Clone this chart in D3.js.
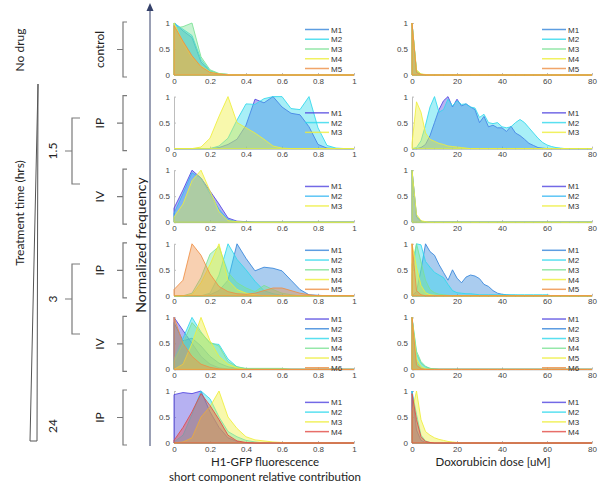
<!DOCTYPE html>
<html>
<head>
<meta charset="utf-8">
<script src="https://cdn.jsdelivr.net/npm/d3@7"></script>
<style>
  body { margin: 0; background: #fff; }
  svg { display: block; }
  .tick-label { font-family: "Liberation Sans", Arial, sans-serif; font-size: 8px; fill: #444; }
  .legend-label { font-family: "Liberation Sans", Arial, sans-serif; font-size: 8px; fill: #333; }
  .note { font-family: Lato, "Open Sans", sans-serif; font-size: 12px; fill: #222; }
  .title { font-family: Lato, "Open Sans", sans-serif; font-size: 11.5px; fill: #222; }
  .freq { font-family: Lato, "Open Sans", sans-serif; font-size: 14px; fill: #222; }
</style>
</head>
<body>
<svg id="chart" width="599" height="483"></svg>
<script>
// ---- bins and ticks ----
const fluoBins = [0, 0.05, 0.1, 0.15, 0.2, 0.25, 0.3, 0.35, 0.4, 0.45, 0.5,
                  0.55, 0.6, 0.65, 0.7, 0.75, 0.8, 0.85, 0.9, 0.95, 1];
const doseBins = [0, 2, 4, 6, 8, 10, 12, 14, 16, 18, 20, 22, 24, 26, 28, 30, 32, 34, 36, 38, 40,
                  42, 44, 46, 48, 50, 52, 54, 56, 58, 60, 62, 64, 66, 68, 70, 72, 74, 76, 78, 80];
const fluoTicks = [0, 0.2, 0.4, 0.6, 0.8, 1];
const doseTicks = [0, 20, 40, 60, 80];
const freqTicks = [0, 0.5, 1];

// ---- row descriptions ----
const rowRoutes = ["control", "IP", "IV", "IP", "IV", "IP"];
const rowMice = [
  ["M1", "M2", "M3", "M4", "M5"],
  ["M1", "M2", "M3"],
  ["M1", "M2", "M3"],
  ["M1", "M2", "M3", "M4", "M5"],
  ["M1", "M2", "M3", "M4", "M5", "M6"],
  ["M1", "M2", "M3", "M4"]
];

// ---- normalized frequency, H1-GFP short component (bins of fluoBins; missing tail = 0) ----
const controlFluo = [
  [1, 0.85, 0.72, 0.25, 0.07, 0.02, 0.01],
  [1, 0.88, 0.76, 0.3, 0.08, 0.02, 0.01],
  [0.9, 0.93, 1, 0.35, 0.1, 0.03, 0.01],
  [1, 0.62, 0.34, 0.17, 0.06, 0.02, 0.01],
  [0.95, 0.65, 0.37, 0.16, 0.05, 0.02]
];
const ip15Fluo = [
  [0, 0, 0, 0, 0, 0.02, 0.08, 0.18, 0.45, 0.95, 0.88, 1, 0.8, 0.68, 0.65, 0.42, 0.08, 0.01],
  [0, 0, 0, 0, 0, 0.05, 0.2, 0.55, 0.86, 0.85, 0.96, 1, 1, 0.77, 0.75, 1, 0.4, 0.06, 0.01],
  [0, 0, 0, 0.03, 0.2, 0.62, 1, 0.5, 0.4, 0.3, 0.18, 0.05, 0.01]
];
const iv15Fluo = [
  [0.27, 0.62, 1, 0.85, 0.6, 0.35, 0.08, 0.02, 0.01],
  [0.17, 0.55, 0.95, 0.85, 0.55, 0.25, 0.05, 0.01],
  [0.1, 0.35, 0.8, 1, 0.6, 0.2, 0.03, 0.01]
];
const ip3Fluo = [
  [0, 0, 0, 0, 0.02, 0.1, 0.3, 1, 0.72, 0.48, 0.55, 0.53, 0.48, 0.3, 0.12, 0.02, 0.01],
  [0, 0, 0, 0, 0.05, 0.4, 1, 0.7, 0.5, 0.28, 0.1, 0.04, 0.01],
  [0, 0, 0.05, 0.35, 0.8, 0.95, 0.45, 0.25, 0.15, 0.08, 0.2, 0.12, 0.05, 0.02],
  [0, 0, 0.02, 0.25, 0.6, 1, 0.3, 0.12, 0.05, 0.02],
  [0.12, 0.3, 1, 0.78, 0.42, 0.18, 0.08, 0.04, 0.03, 0.05, 0.1, 0.15, 0.15, 0.1, 0.05, 0.02]
];
const iv3Fluo = [
  [1, 0.75, 0.5, 0.25, 0.1, 0.03, 0.01],
  [0.9, 0.55, 0.6, 0.45, 0.25, 0.12, 0.05, 0.02],
  [0.2, 0.6, 1, 0.72, 0.5, 0.48, 0.2, 0.05, 0.01],
  [0.15, 0.5, 0.9, 0.7, 0.52, 0.45, 0.15, 0.05, 0.02, 0.02, 0.02, 0.02, 0.02],
  [0, 0.1, 0.5, 1, 0.55, 0.25, 0.1, 0.03],
  [1, 0.5, 0.25, 0.1, 0.04, 0.01]
];
const ip24Fluo = [
  [0.93, 0.97, 0.95, 1, 0.6, 0.3, 0.1, 0.03],
  [0.02, 0.15, 0.55, 1, 0.85, 0.5, 0.22, 0.12, 0.05, 0.02],
  [0, 0.02, 0.1, 0.5, 0.7, 1, 0.5, 0.28, 0.12, 0.06, 0.04, 0.02, 0.01],
  [0.05, 0.3, 0.6, 0.95, 0.72, 0.45, 0.15, 0.04, 0.01]
];

// ---- normalized frequency, doxorubicin dose (bins of doseBins; missing tail = 0) ----
const controlDose = [
  [1, 0.05, 0.01],
  [1, 0.06, 0.01],
  [1, 0.08, 0.02],
  [1, 0.1, 0.02, 0.01],
  [1, 0.05, 0.01]
];
const ip15Dose = [
  [0, 0, 0.02, 0.08, 0.25, 0.5, 0.75, 0.92, 1, 0.8, 0.95, 0.82, 0.86, 0.8, 0.75, 0.5, 0.62,
   0.42, 0.45, 0.4, 0.4, 0.33, 0.43, 0.3, 0.25, 0.18, 0.1, 0.06, 0.02, 0.01],
  [0, 0.02, 0.15, 0.45, 0.8, 1, 0.7, 0.75, 0.95, 0.82, 0.92, 0.85, 0.86, 0.8, 0.78, 0.6, 0.66,
   0.5, 0.48, 0.5, 0.42, 0.4, 0.42, 0.5, 0.56, 0.5, 0.4, 0.3, 0.2, 0.12, 0.07, 0.04, 0.02, 0.01],
  [0.1, 0.9, 0.7, 0.3, 0.18, 0.14, 0.1, 0.08, 0.05, 0.04, 0.03, 0.02, 0.01]
];
const iv15Dose = [
  [1, 0.1, 0.02],
  [1, 0.12, 0.02],
  [1, 0.15, 0.03, 0.01]
];
const ip3Dose = [
  [0, 0.08, 0.5, 1, 0.85, 0.78, 0.6, 0.45, 0.3, 0.5, 0.34, 0.25, 0.36, 0.4, 0.38, 0.33, 0.22,
   0.18, 0.1, 0.05, 0.03, 0.02, 0.01, 0.01],
  [0.4, 1, 0.98, 0.66, 0.55, 0.45, 0.4, 0.35, 0.22, 0.1, 0.06, 0.05, 0.04, 0.04, 0.03, 0.02,
   0.02, 0.02, 0.02, 0.02, 0.02, 0.02, 0.02, 0.02, 0.02, 0.02, 0.02, 0.02, 0.02, 0.02, 0.02],
  [0.6, 1, 0.65, 0.3, 0.12, 0.06, 0.03, 0.02, 0.01],
  [1, 0.55, 0.2, 0.06, 0.02, 0.01],
  [1, 0.1, 0.02]
];
const iv3Dose = [
  [1, 0.1, 0.02],
  [1, 0.15, 0.03],
  [1, 0.3, 0.12, 0.05, 0.02, 0.01],
  [1, 0.35, 0.15, 0.06, 0.02, 0.01],
  [1, 0.2, 0.05, 0.01],
  [1, 0.08, 0.01]
];
const ip24Dose = [
  [1, 0.25, 0.05, 0.01],
  [1, 0.55, 0.15, 0.04, 0.01],
  [0.6, 1, 0.45, 0.22, 0.15, 0.1, 0.07, 0.05, 0.03, 0.02, 0.01],
  [0.95, 0.45, 0.12, 0.03, 0.01]
];

const fluoRows = [controlFluo, ip15Fluo, iv15Fluo, ip3Fluo, iv3Fluo, ip24Fluo];
const doseRows = [controlDose, ip15Dose, iv15Dose, ip3Dose, iv3Dose, ip24Dose];

// ---- colours ----
const col = {
  blue: "#3585da", purple: "#5044e0", cyan: "#30d8ec", sky: "#34b6f2",
  green: "#7ae294", yellow: "#eeee3a", orange: "#ee8e44", red: "#e24a44"
};
const rowColors = [
  [col.blue, col.cyan, col.green, col.yellow, col.orange],
  [col.purple, col.cyan, col.yellow],
  [col.purple, col.sky, col.yellow],
  [col.blue, col.cyan, col.green, col.yellow, col.orange],
  [col.purple, col.blue, col.cyan, col.green, col.yellow, col.orange],
  [col.purple, col.cyan, col.yellow, col.red]
];

// ---- layout ----
const svg = d3.select("#chart");
const rowTop0 = 23, rowStep = 73.6, panelH = 52;
const columns = [
  { x0: 174, x1: 354, bins: fluoBins, ticks: fluoTicks, domain: [0, 1], rows: fluoRows,
    tickFmt: d => (d === 0 || d === 1) ? String(d) : d3.format(".1f")(d), legX: 305 },
  { x0: 412, x1: 592, bins: doseBins, ticks: doseTicks, domain: [0, 80], rows: doseRows,
    tickFmt: d => String(d), legX: 542 }
];
const axisGrey = "#bdbdbd";

columns.forEach(c => {
  const x = d3.scaleLinear().domain(c.domain).range([c.x0, c.x1]);
  c.rows.forEach((series, r) => {
    const top = rowTop0 + r * rowStep;
    const y = d3.scaleLinear().domain([0, 1]).range([top + panelH, top]);
    const g = svg.append("g");

    // axes
    const xa = g.append("g").attr("transform", `translate(0,${top + panelH})`)
      .call(d3.axisBottom(x).tickValues(c.ticks).tickFormat(c.tickFmt).tickSizeInner(-2).tickSizeOuter(0).tickPadding(3));
    const ya = g.append("g").attr("transform", `translate(${c.x0},0)`)
      .call(d3.axisLeft(y).tickValues(freqTicks).tickFormat(d => d === 0.5 ? "0.5" : String(d)).tickSizeInner(-2).tickSizeOuter(0).tickPadding(4));
    [xa, ya].forEach(a => {
      a.select(".domain").attr("stroke", axisGrey);
      a.selectAll(".tick line").attr("stroke", axisGrey);
      a.selectAll(".tick text").attr("class", "tick-label").attr("font-family", null).attr("font-size", null);
    });

    // distributions
    const area = d3.area()
      .x((d, i) => x(c.bins[i]))
      .y0(y(0))
      .y1(d => y(d));
    series.forEach((vals, k) => {
      const full = c.bins.map((b, i) => vals[i] ?? 0);
      g.append("path")
        .attr("d", area(full) + "Z")
        .attr("fill", rowColors[r][k])
        .attr("fill-opacity", 0.42)
        .attr("stroke", rowColors[r][k])
        .attr("stroke-opacity", 0.85)
        .attr("stroke-width", 1)
        .attr("stroke-linejoin", "round");
    });

    // legend
    const names = rowMice[r];
    const step = 9.75;
    const ly0 = top + panelH / 2 - step * (names.length - 1) / 2;
    names.forEach((nm, k) => {
      const ly = ly0 + k * step;
      g.append("line").attr("x1", c.legX).attr("x2", c.legX + 24).attr("y1", ly).attr("y2", ly)
        .attr("stroke", rowColors[r][k]).attr("stroke-width", 1.5).attr("stroke-opacity", 0.8);
      g.append("text").attr("class", "legend-label").attr("x", c.legX + 26).attr("y", ly + 3).text(nm);
    });
  });
});

// ---- shared frequency axis ----
const ann = svg.append("g");
ann.append("line").attr("x1", 150).attr("x2", 150).attr("y1", 446).attr("y2", 10)
  .attr("stroke", "#34406a").attr("stroke-width", 1);
ann.append("path").attr("d", "M150,3 L146.5,11 L153.5,11 Z").attr("fill", "#34406a");
ann.append("text").attr("class", "freq")
  .attr("transform", "translate(146,245) rotate(-90)").attr("text-anchor", "middle")
  .text("Normalized frequency");

// ---- route brackets per row ----
const bracketGrey = "#7a7a7a";
rowRoutes.forEach((lab, r) => {
  const top = rowTop0 + r * rowStep - 1;
  const bot = top + panelH + 3;
  const mid = (top + bot) / 2;
  ann.append("path")
    .attr("d", `M127,${top} L123,${top} L123,${bot} L127,${bot} M123,${mid} L117,${mid}`)
    .attr("fill", "none").attr("stroke", bracketGrey).attr("stroke-width", 1.2);
  ann.append("text").attr("class", "note")
    .attr("transform", `translate(104,${mid}) rotate(-90)`).attr("text-anchor", "middle")
    .text(lab);
});

// ---- treatment time brackets ----
const timeGroups = [
  { label: "1.5", top: 118, bot: 184 },
  { label: "3", top: 264, bot: 334 }
];
timeGroups.forEach(t => {
  const mid = (t.top + t.bot) / 2;
  ann.append("path")
    .attr("d", `M80,${t.top} L72,${t.top} L72,${t.bot} L80,${t.bot} M72,${mid} L65,${mid}`)
    .attr("fill", "none").attr("stroke", bracketGrey).attr("stroke-width", 1.2);
  ann.append("text").attr("class", "note")
    .attr("transform", `translate(57,${mid}) rotate(-90)`).attr("text-anchor", "middle")
    .text(t.label);
});
ann.append("text").attr("class", "note")
  .attr("transform", "translate(57,426) rotate(-90)").attr("text-anchor", "middle").text("24");

// treatment time wedge
ann.append("path").attr("d", "M38,84 L30,441 L37,441 Z")
  .attr("fill", "none").attr("stroke", "#555").attr("stroke-width", 1);
ann.append("text").attr("class", "note")
  .attr("transform", "translate(24,213) rotate(-90)").attr("text-anchor", "middle")
  .text("Treatment time (hrs)");
ann.append("text").attr("class", "note")
  .attr("transform", "translate(24,50) rotate(-90)").attr("text-anchor", "middle")
  .text("No drug");

// ---- axis titles ----
ann.append("text").attr("class", "title").attr("x", 265).attr("y", 466).attr("text-anchor", "middle")
  .text("H1-GFP fluorescence");
ann.append("text").attr("class", "title").attr("x", 265).attr("y", 480.5).attr("text-anchor", "middle")
  .text("short component relative contribution");
ann.append("text").attr("class", "title").attr("x", 493).attr("y", 466).attr("text-anchor", "middle")
  .text("Doxorubicin dose [uM]");
</script>
</body>
</html>
